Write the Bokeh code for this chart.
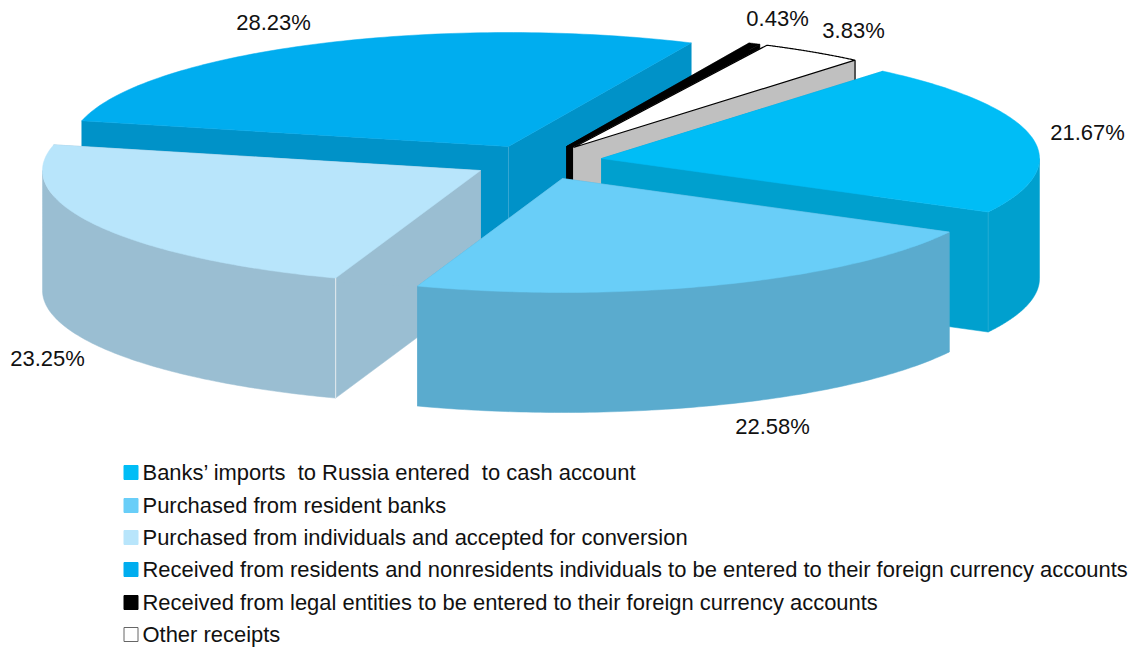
import numpy as np
from bokeh.core.properties import value
from bokeh.embed import file_html
from bokeh.models import Range1d
from bokeh.plotting import figure
from bokeh.resources import INLINE

# Shares of each receipt channel, percent, clockwise
categories = [
    "Banks\u2019 imports\u00a0 to Russia entered\u00a0 to cash account",
    "Purchased from resident banks",
    "Purchased from individuals and accepted for conversion",
    "Received from residents and nonresidents individuals to be entered to their foreign currency accounts",
    "Received from legal entities to be entered to their foreign currency accounts",
    "Other receipts",
]
shares = [21.67, 22.58, 23.25, 28.23, 0.43, 3.83]

top_colors = ["#00BDF6", "#69CEF8", "#B8E5FB", "#00ADEF", "#000000", "#FFFFFF"]
wall_colors = ["#00A0CE", "#5AABCE", "#9ABED2", "#0092C8", "#000000", "#C0C0C0"]

# Exploded apex of every wedge on the page
apex_x = [601, 562, 480, 508, 566, 573]
apex_y = [158, 178, 170, 146, 146, 147]
label_x = [1087, 772, 47, 273, 777, 853]
label_y = [132, 426, 358, 22, 18, 30]

RX, RY, DEPTH = 438, 114, 120
START_DEG = 50.0
FONT = "Liberation Sans"

p = figure(
    width=1135, height=648, output_backend="svg", toolbar_location=None,
    x_range=Range1d(0, 1135), y_range=Range1d(648, 0),
    min_border=0, outline_line_color=None, background_fill_color="white",
)
p.axis.visible = False
p.grid.visible = False

# Wedge angles follow from the shares
ends = START_DEG - np.cumsum(shares) * 360.0 / sum(shares)
starts = np.concatenate(([START_DEG], ends[:-1]))


def rim_point(i, deg):
    t = np.radians(deg)
    return apex_x[i] + RX * np.cos(t), apex_y[i] - RY * np.sin(t)


def draw_wedge(i):
    ax, ay = apex_x[i], apex_y[i]
    xs, ys = rim_point(i, np.linspace(starts[i], ends[i], 90))
    wall = wall_colors[i]

    # Radial faces
    for ex, ey in ((xs[0], ys[0]), (xs[-1], ys[-1])):
        p.patch([ax, ex, ex, ax], [ay, ey, ey + DEPTH, ay + DEPTH],
                fill_color=wall, line_color=wall, line_width=0.5)

    # Rim: only the part of the arc that faces the viewer
    hi, lo = min(starts[i], 0.0), max(ends[i], -180.0)
    if hi > lo:
        fx, fy = rim_point(i, np.linspace(hi, lo, 90))
        p.patch(np.r_[fx, fx[::-1]], np.r_[fy, fy[::-1] + DEPTH],
                fill_color=wall, line_color=wall, line_width=0.5)

    # Thin creases on the vertical corners
    if i == 0:
        p.segment(xs[-1:], ys[-1:], xs[-1:], ys[-1:] + DEPTH, line_color="#1FAAD4", line_width=1)
    elif i == 2:
        p.segment(xs[:1], ys[:1], xs[:1], ys[:1] + DEPTH, line_color="#DCE6EC", line_width=1.2)
    elif i == 3:
        p.segment([ax], [ay], [ax], [ay + DEPTH], line_color="#35A6D2", line_width=1)

    # Top face
    outlined = i == 5
    p.patch(np.r_[ax, xs], np.r_[ay, ys], fill_color=top_colors[i],
            line_color="#000000" if outlined else top_colors[i],
            line_width=1.2 if outlined else 0.5)
    if outlined:
        p.segment(xs[-1:], ys[-1:], xs[-1:], ys[-1:] + DEPTH, line_color="#000000", line_width=1.2)


# Back to front
for idx in (3, 4, 5, 0, 2, 1):
    draw_wedge(idx)

# Percentage labels
p.text(label_x, label_y, text=[f"{v:.2f}%" for v in shares],
       text_font=value(FONT), text_font_size="22px", text_color="#111111",
       text_align="center", text_baseline="middle")

# Legend
legend_rows = [472, 505, 537, 569, 602, 634]
swatch_lines = [c if c != "#FFFFFF" else "#666666" for c in top_colors]
p.rect([130.5] * 6, legend_rows, width=14, height=14, fill_color=top_colors,
       line_color=swatch_lines, line_width=1)
p.text([142] * 6, legend_rows, text=categories, text_font=value(FONT),
       text_font_size="21.95px", text_color="#111111", text_align="left",
       text_baseline="middle")

open("out.html", "w").write(file_html(p, INLINE))
